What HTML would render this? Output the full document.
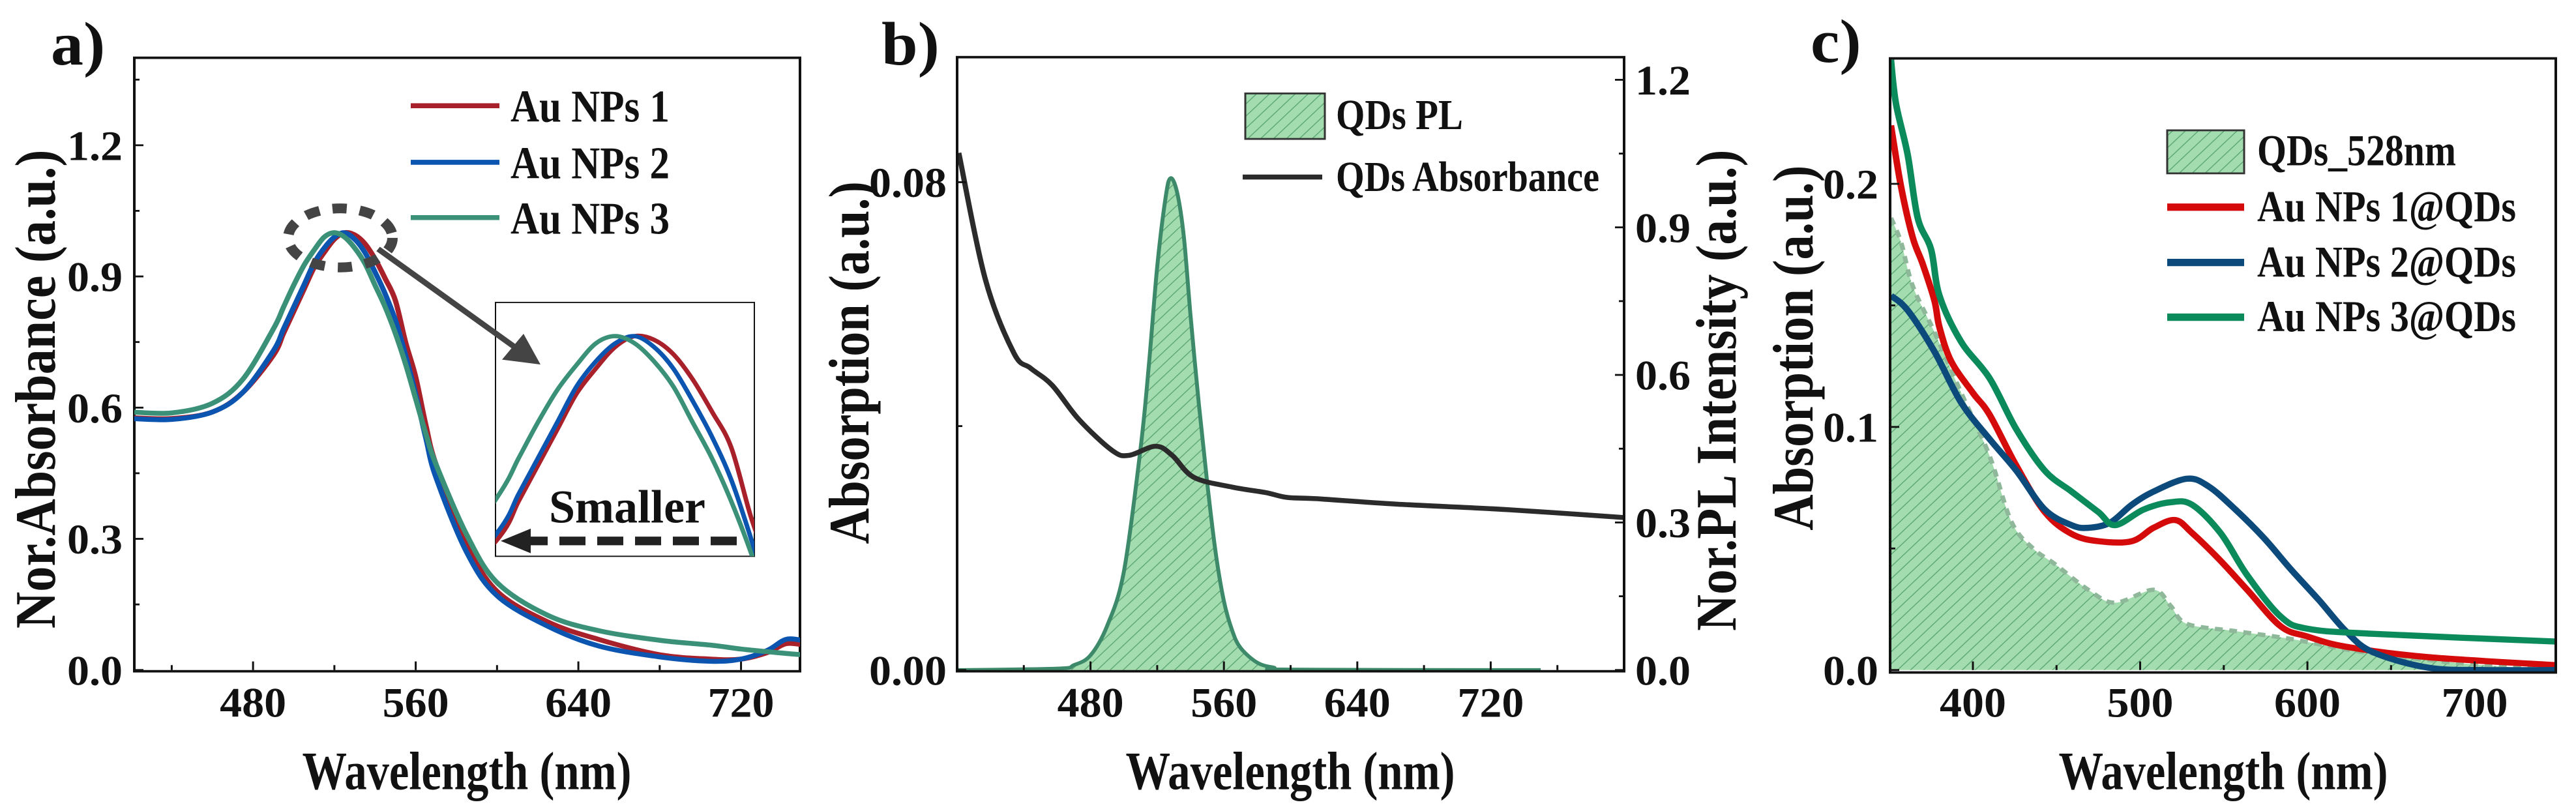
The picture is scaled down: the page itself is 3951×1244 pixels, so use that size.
<!DOCTYPE html>
<html><head><meta charset="utf-8"><style>
html,body{margin:0;padding:0;background:#fff;width:3951px;height:1244px;overflow:hidden;}
svg{display:block;overflow:hidden;}
text{font-family:"Liberation Serif",serif;font-weight:bold;fill:#111;}
</style></head><body>
<svg id="fig" xmlns="http://www.w3.org/2000/svg" width="3951" height="1244" viewBox="0 0 3951 1244">
<defs>
<pattern id="hatch" patternUnits="userSpaceOnUse" width="14" height="14" patternTransform="rotate(45)">
<rect width="14" height="14" fill="#a3dcae"/><line x1="0" y1="0" x2="0" y2="14" stroke="#5fa877" stroke-width="3"/>
</pattern>
<clipPath id="clipA"><rect x="206" y="94" width="1021" height="998"/></clipPath>
<clipPath id="clipInset"><rect x="760" y="492" width="397" height="413"/></clipPath>
<clipPath id="clipB"><rect x="1468" y="93" width="1023" height="999"/></clipPath>
<clipPath id="clipC"><rect x="2899" y="95" width="1021" height="999"/></clipPath>
</defs>
<g id="root" transform="scale(1,0.9429)"></g>
</svg>
<script>
// ---- Panel a data ----
const aWl = [420,440,460,475,490,495,500,505,510,515,520,525,530,535,540,545,550,555,560,565,570,585,600,625,650,680,705,720,733,742,750];
const aRed = [0.577,0.575,0.59,0.635,0.72,0.77,0.82,0.87,0.92,0.955,0.985,1.0,0.995,0.975,0.94,0.895,0.845,0.75,0.67,0.56,0.47,0.29,0.18,0.11,0.07,0.035,0.025,0.025,0.04,0.06,0.058];
const aBlue = [0.575,0.573,0.59,0.635,0.73,0.78,0.83,0.88,0.93,0.965,0.99,1.0,0.985,0.955,0.91,0.86,0.80,0.72,0.63,0.53,0.44,0.27,0.17,0.10,0.055,0.03,0.02,0.025,0.045,0.07,0.068];
const aGreen = [0.59,0.588,0.61,0.665,0.78,0.83,0.88,0.925,0.96,0.99,1.0,0.99,0.965,0.93,0.88,0.83,0.77,0.70,0.62,0.54,0.47,0.31,0.2,0.125,0.09,0.068,0.057,0.048,0.042,0.038,0.035];
const aXTicks = [480,560,640,720];
const aYTicks = [0.0,0.3,0.6,0.9,1.2];
// ---- Panel b data ----
const bWlAbs = [401,417,434,444,457,473,493,503,519,529,542,565,585,598,615,664,730,800];
const bAbs = [0.0848,0.064,0.052,0.0495,0.0467,0.0411,0.036,0.0352,0.0367,0.0352,0.0316,0.030,0.0291,0.0283,0.0281,0.0272,0.0263,0.025];
const bWlPL = [400,460,470,480,490,500,510,515,520,525,528,532,536,540,545,550,555,560,565,570,580,590,600,750];
const bPL = [0,0.003,0.01,0.03,0.09,0.2,0.45,0.62,0.82,0.96,1.0,0.97,0.88,0.72,0.54,0.38,0.24,0.14,0.08,0.045,0.015,0.005,0.001,0];
const bXTicks = [480,560,640,720];
const bYLeftTicks = [0.00,0.08];
const bYRightTicks = [0.0,0.3,0.6,0.9,1.2];
// ---- Panel c data ----
const cWlQD = [351,357,364,377,393,410,423,436,449,469,485,508,518,528,557,590,623,656,705,750];
const cQD = [0.186,0.176,0.158,0.139,0.114,0.088,0.061,0.050,0.0436,0.033,0.0277,0.033,0.0266,0.019,0.016,0.0128,0.0085,0.0053,0.002,0];
const cWlRed = [351,357,364,370,377,380,387,400,410,426,443,459,475,495,508,521,531,547,564,584,600,623,672,749];
const cRed = [0.224,0.199,0.178,0.167,0.152,0.141,0.127,0.114,0.105,0.084,0.065,0.056,0.053,0.053,0.0585,0.0617,0.0564,0.0457,0.033,0.018,0.0138,0.0096,0.0053,0.002];
const cWlBlue = [351,361,377,393,410,426,443,459,469,482,495,508,528,541,557,574,590,607,623,639,672,705,750];
const cBlue = [0.154,0.148,0.131,0.110,0.095,0.082,0.066,0.0596,0.0585,0.0606,0.068,0.0734,0.0787,0.0755,0.066,0.0543,0.0415,0.0287,0.016,0.0074,0.001,0,0];
const cWlGreen = [351,354,361,367,375,380,393,410,426,443,459,475,485,502,518,531,548,564,584,600,639,749];
const cGreen = [0.251,0.233,0.212,0.186,0.173,0.154,0.135,0.12,0.099,0.082,0.0734,0.065,0.0596,0.066,0.069,0.068,0.0564,0.039,0.022,0.017,0.0149,0.0117];
const cXTicks = [400,500,600,700];
const cYTicks = [0.0,0.1,0.2];

const NS='http://www.w3.org/2000/svg';
const root=document.getElementById('root');
function mk(tag,attrs,parent){const e=document.createElementNS(NS,tag);for(const k in attrs)e.setAttribute(k,attrs[k]);(parent||root).appendChild(e);return e;}
function lin(d0,d1,r0,r1){return v=>r0+(v-d0)/(d1-d0)*(r1-r0);}
function smooth(pts){let d='M'+pts[0][0]+','+pts[0][1];for(let i=0;i<pts.length-1;i++){const p0=pts[Math.max(0,i-1)],p1=pts[i],p2=pts[i+1],p3=pts[Math.min(pts.length-1,i+2)];const c1x=p1[0]+(p2[0]-p0[0])/6,c1y=p1[1]+(p2[1]-p0[1])/6,c2x=p2[0]-(p3[0]-p1[0])/6,c2y=p2[1]-(p3[1]-p1[1])/6;d+=' C'+c1x+','+c1y+' '+c2x+','+c2y+' '+p2[0]+','+p2[1];}return d;}
function pts(xs,ys,sx,sy){return xs.map((x,i)=>[sx(x),sy(ys[i])]);}
function txt(s,x,y,size,anchor,extra){const t=mk('text',Object.assign({x:x,y:y,'font-size':size,'text-anchor':anchor||'start'},extra||{}));t.textContent=s;return t;}

// ===== Panel a =====
const axX=lin(421.6,749,206,1227), axY=lin(0,1.4,1090,94);
let el;
el=mk('rect',{x:206,y:94,width:1021,height:998,fill:'none',stroke:'#111','stroke-width':4});


[440,520,600,680].forEach(v=>{el=mk('line',{x1:axX(v),x2:axX(v),y1:1090,y2:1082,stroke:'#111','stroke-width':3});

});
aXTicks.forEach(v=>{el=mk('line',{x1:axX(v),x2:axX(v),y1:1090,y2:1076,stroke:'#111','stroke-width':3});


el=txt(String(v),axX(v),1166,68,'middle');

});
[0.15,0.45,0.75,1.05,1.35].forEach(v=>{el=mk('line',{x1:206,x2:214,y1:axY(v),y2:axY(v),stroke:'#111','stroke-width':3});

});
aYTicks.forEach(v=>{el=mk('line',{x1:206,x2:220,y1:axY(v),y2:axY(v),stroke:'#111','stroke-width':3});


el=txt(v.toFixed(1),188,axY(v)+24,68,'end');

});
const gA=mk('g',{'clip-path':'url(#clipA)'});


[[aRed,'#a8202a','red'],[aBlue,'#0b55b0','blue'],[aGreen,'#3a9178','green']].forEach(s=>{el=mk('path',{d:smooth(pts(aWl,s[0],axX,axY)),fill:'none',stroke:s[1],'stroke-width':8,'stroke-linejoin':'round'},gA);

});
// legend a
[['Au NPs 1','#a8202a',198],['Au NPs 2','#0b55b0',290],['Au NPs 3','#3a9178',380]].forEach(l=>{el=mk('line',{x1:630,x2:766,y1:l[2]-26,y2:l[2]-26,stroke:l[1],'stroke-width':8});


el=txt(l[0],783,l[2],74,'start',{textLength:244,lengthAdjust:'spacingAndGlyphs'});

});
// dashed circle
el=mk('ellipse',{cx:522,cy:387,rx:80,ry:48,fill:'none',stroke:'#444','stroke-width':16,'stroke-dasharray':'22 20'});


// inset
el=mk('rect',{x:760,y:492,width:397,height:413,fill:'#fff',stroke:'#111','stroke-width':2});


const ix=lin(489,556,760,1157), iy=lin(0.693,1.047,905,492);
const gI=mk('g',{'clip-path':'url(#clipInset)'});


[[aRed,'#a8202a','red'],[aBlue,'#0b55b0','blue'],[aGreen,'#3a9178','green']].forEach(s=>{el=mk('path',{d:smooth(pts(aWl,s[0],ix,iy)),fill:'none',stroke:s[1],'stroke-width':7},gI);

});
el=txt('Smaller',842,850,76,'start',{textLength:240,lengthAdjust:'spacingAndGlyphs'});


el=mk('line',{x1:800,y1:880,x2:1146,y2:880,stroke:'#222','stroke-width':14,'stroke-dasharray':'40 18'});


el=mk('polygon',{points:'768,880 814,860 814,900',fill:'#222'});


// zoom arrow (drawn over inset)
el=mk('line',{x1:580,y1:405,x2:790,y2:565,stroke:'#444','stroke-width':9});


el=mk('polygon',{points:'829,593 770,585 803,543',fill:'#444'});


el=txt('a)',78,105,100,'start');


el=txt('Wavelength (nm)',716,1284,88,'middle',{textLength:505,lengthAdjust:'spacingAndGlyphs'});


el=txt('Nor.Absorbance (a.u.)',0,0,88,'middle',{transform:'translate(84,633) rotate(-90)',textLength:779,lengthAdjust:'spacingAndGlyphs'});



// ===== Panel b =====
const bx=lin(400,800,1468,2491), byL=lin(0,0.1005,1090,93), byR=lin(0,1.246,1090,93);
const gB=mk('g',{'clip-path':'url(#clipB)'});


const plPts=pts(bWlPL,bPL,bx,byR);
el=mk('path',{d:smooth(plPts)+' L'+bx(750)+','+byR(0)+' L'+bx(400)+','+byR(0)+' Z',fill:'url(#hatch)',stroke:'none'},gB);


el=mk('path',{d:smooth(plPts),fill:'none',stroke:'#3d8a6a','stroke-width':6},gB);


el=mk('path',{d:smooth(pts(bWlAbs,bAbs,bx,byL)),fill:'none',stroke:'#2b2b2b','stroke-width':8},gB);


el=mk('rect',{x:1468,y:93,width:1023,height:999,fill:'none',stroke:'#111','stroke-width':4});


[440,520,600,680,760].forEach(v=>{el=mk('line',{x1:bx(v),x2:bx(v),y1:1090,y2:1082,stroke:'#111','stroke-width':3});

});
bXTicks.forEach(v=>{el=mk('line',{x1:bx(v),x2:bx(v),y1:1090,y2:1076,stroke:'#111','stroke-width':3});


el=txt(String(v),bx(v),1166,68,'middle');

});
el=mk('line',{x1:1468,x2:1476,y1:byL(0.04),y2:byL(0.04),stroke:'#111','stroke-width':3});


bYLeftTicks.forEach(v=>{el=mk('line',{x1:1468,x2:1482,y1:byL(v),y2:byL(v),stroke:'#111','stroke-width':3});


el=txt(v.toFixed(2),1452,byL(v)+24,68,'end');

});
[0.15,0.45,0.75,1.05].forEach(v=>{el=mk('line',{x1:2491,x2:2483,y1:byR(v),y2:byR(v),stroke:'#111','stroke-width':3});

});
bYRightTicks.forEach(v=>{el=mk('line',{x1:2491,x2:2477,y1:byR(v),y2:byR(v),stroke:'#111','stroke-width':3});


el=txt(v.toFixed(1),2508,byR(v)+24,68,'start');

});
el=mk('rect',{x:1910,y:152,width:122,height:74,fill:'url(#hatch)',stroke:'#333','stroke-width':3});


el=txt('QDs PL',2049,210,70,'start',{textLength:195,lengthAdjust:'spacingAndGlyphs'});


el=mk('line',{x1:1906,x2:2028,y1:288,y2:288,stroke:'#2b2b2b','stroke-width':8});


el=txt('QDs Absorbance',2049,311,70,'start',{textLength:404,lengthAdjust:'spacingAndGlyphs'});


el=txt('b)',1352,105,100,'start');


el=txt('Wavelength (nm)',1979,1284,88,'middle',{textLength:505,lengthAdjust:'spacingAndGlyphs'});


el=txt('Absorption (a.u.)',0,0,88,'middle',{transform:'translate(1332,590) rotate(-90)',textLength:590,lengthAdjust:'spacingAndGlyphs'});


el=txt('Nor.PL Intensity (a.u.)',0,0,88,'middle',{transform:'translate(2662,635) rotate(-90)',textLength:783,lengthAdjust:'spacingAndGlyphs'});



// ===== Panel c =====
const cx=lin(350.5,748.5,2899,3920), cy=lin(0,0.2516,1090,95);
const gC=mk('g',{'clip-path':'url(#clipC)'});


const qdPts=pts(cWlQD,cQD,cx,cy);
el=mk('path',{d:smooth(qdPts)+' L'+cx(750)+','+cy(0)+' L'+cx(350)+','+cy(0)+' Z',fill:'url(#hatch)',stroke:'none'},gC);


el=mk('path',{d:smooth(qdPts),fill:'none',stroke:'#8fb89a','stroke-width':7,'stroke-dasharray':'12 10'},gC);


[[cWlRed,cRed,'#d50a0a','red'],[cWlBlue,cBlue,'#0d4a7c','blue'],[cWlGreen,cGreen,'#0b8a5c','green']].forEach(s=>{el=mk('path',{d:smooth(pts(s[0],s[1],cx,cy)),fill:'none',stroke:s[2],'stroke-width':10,'stroke-linejoin':'round'},gC);

});
el=mk('rect',{x:2899,y:95,width:1021,height:999,fill:'none',stroke:'#111','stroke-width':4});


[450,550,650].forEach(v=>{el=mk('line',{x1:cx(v),x2:cx(v),y1:1090,y2:1082,stroke:'#111','stroke-width':3});

});
cXTicks.forEach(v=>{el=mk('line',{x1:cx(v),x2:cx(v),y1:1090,y2:1076,stroke:'#111','stroke-width':3});


el=txt(String(v),cx(v),1166,68,'middle');

});
[0.05,0.15].forEach(v=>{el=mk('line',{x1:2899,x2:2907,y1:cy(v),y2:cy(v),stroke:'#111','stroke-width':3});

});
cYTicks.forEach(v=>{el=mk('line',{x1:2899,x2:2913,y1:cy(v),y2:cy(v),stroke:'#111','stroke-width':3});


el=txt(v.toFixed(1),2881,cy(v)+24,68,'end');

});
el=mk('rect',{x:3324,y:212,width:118,height:70,fill:'url(#hatch)',stroke:'#333','stroke-width':3});


el=txt('QDs_528nm',3462,269,72,'start',{textLength:305,lengthAdjust:'spacingAndGlyphs'});


[['Au NPs 1@QDs','#d50a0a',360],['Au NPs 2@QDs','#0d4a7c',450],['Au NPs 3@QDs','#0b8a5c',539]].forEach(l=>{el=mk('line',{x1:3324,x2:3442,y1:l[2]-23,y2:l[2]-23,stroke:l[1],'stroke-width':12});


el=txt(l[0],3462,l[2],72,'start',{textLength:397,lengthAdjust:'spacingAndGlyphs'});

});
el=txt('c)',2777,101,100,'start');


el=txt('Wavelength (nm)',3410,1284,88,'middle',{textLength:505,lengthAdjust:'spacingAndGlyphs'});


el=txt('Absorption (a.u.)',0,0,88,'middle',{transform:'translate(2780,566) rotate(-90)',textLength:594,lengthAdjust:'spacingAndGlyphs'});


</script>
</body></html>
